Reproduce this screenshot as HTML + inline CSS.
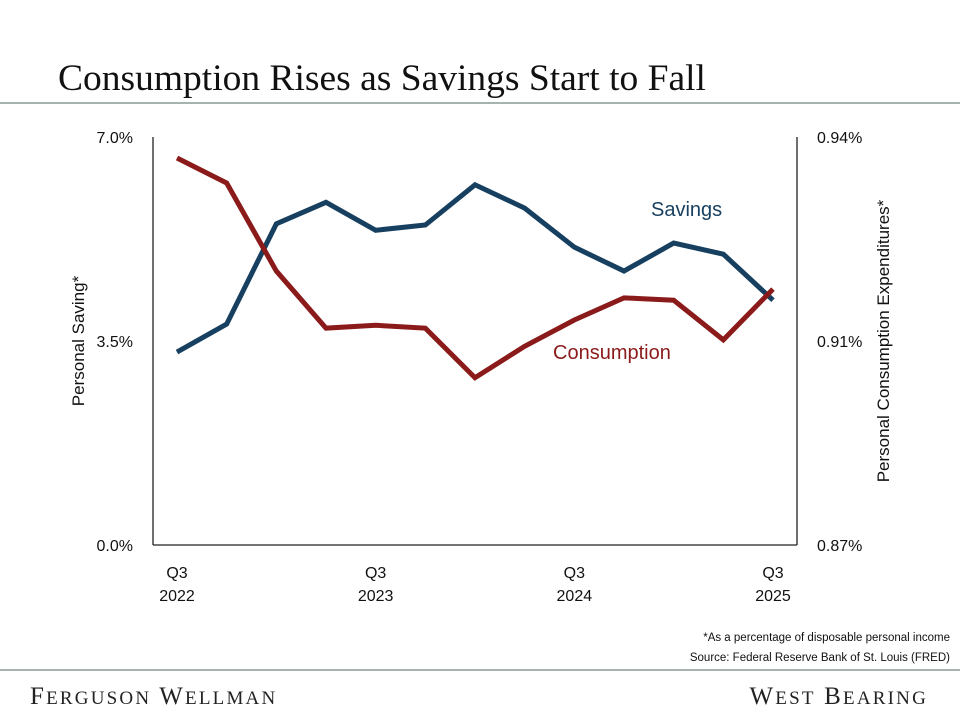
<!DOCTYPE html>
<html><head><meta charset="utf-8"><style>
body{margin:0;width:960px;height:720px;background:#fff;overflow:hidden;font-family:"Liberation Sans",sans-serif}
</style></head><body>
<svg width="960" height="720" viewBox="0 0 960 720">
<text x="58" y="90" font-family="Liberation Serif,serif" font-size="37.5" fill="#111">Consumption Rises as Savings Start to Fall</text>
<line x1="0" y1="103" x2="960" y2="103" stroke="#8a9a94" stroke-width="1.5"/>
<g id="axes"></g>
<g id="marks"></g>
<text x="950" y="641" text-anchor="end" font-size="11.5" fill="#111">*As a percentage of disposable personal income</text>
<text x="950" y="661" text-anchor="end" font-size="11.5" fill="#111">Source: Federal Reserve Bank of St. Louis (FRED)</text>
<line x1="0" y1="670" x2="960" y2="670" stroke="#8a9a94" stroke-width="1.5"/>
<text x="30" y="704" font-family="Liberation Serif,serif" font-size="25" fill="#222" letter-spacing="2.2">F<tspan font-size="19">ERGUSON</tspan> W<tspan font-size="19">ELLMAN</tspan></text>
<text x="928" y="704" text-anchor="end" font-family="Liberation Serif,serif" font-size="25" fill="#222" letter-spacing="2.2">W<tspan font-size="19">EST</tspan> B<tspan font-size="19">EARING</tspan></text>
</svg>
<script>
const quarters=["Q3 2022","Q4 2022","Q1 2023","Q2 2023","Q3 2023","Q4 2023","Q1 2024","Q2 2024","Q3 2024","Q4 2024","Q1 2025","Q2 2025","Q3 2025"];
const savings=[3.31,3.79,5.51,5.88,5.40,5.49,6.18,5.78,5.11,4.70,5.18,4.99,4.20];
const consumption=[0.9364,0.9321,0.9170,0.9072,0.9077,0.9072,0.8987,0.9041,0.9086,0.9124,0.9120,0.9052,0.9139];
const leftTicks=[0,3.5,7.0];
const leftTickLabels=["0.0%","3.5%","7.0%"];
const rightTicks=[0.87,0.905,0.94];
const rightTickLabels=["0.87%","0.91%","0.94%"];
const xTickIdx=[0,4,8,12];

const NS="http://www.w3.org/2000/svg";
const X0=177,X1=773,Y0=545,Y1=137,L=153,R=797;
const xs=i=>X0+(X1-X0)*i/(quarters.length-1);
const yL=v=>Y0-(v-0)/(7-0)*(Y0-Y1);
const yR=v=>Y0-(v-0.87)/(0.94-0.87)*(Y0-Y1);
function mk(tag,attrs,parent,text){const e=document.createElementNS(NS,tag);for(const k in attrs)e.setAttribute(k,attrs[k]);if(text!=null)e.textContent=text;parent.appendChild(e);return e;}
const ax=document.getElementById('axes'),mg=document.getElementById('marks');
let e;
e=mk('line',{x1:L,y1:Y1,x2:L,y2:Y0,stroke:'#222','stroke-width':1.3},ax);


e=mk('line',{x1:L,y1:Y0,x2:R,y2:Y0,stroke:'#222','stroke-width':1.3},ax);


e=mk('line',{x1:R,y1:Y1,x2:R,y2:Y0,stroke:'#222','stroke-width':1.3},ax);


leftTicks.forEach((v,i)=>{e=mk('text',{x:133,y:yL(v)+6,'text-anchor':'end','font-size':16,fill:'#111'},ax,leftTickLabels[i]);

});
rightTicks.forEach((v,i)=>{e=mk('text',{x:817,y:yR(v)+6,'font-size':16,fill:'#111'},ax,rightTickLabels[i]);

});
xTickIdx.forEach(i=>{const p=quarters[i].split(' ');
e=mk('text',{x:xs(i),y:578,'text-anchor':'middle','font-size':16,fill:'#111'},ax,p[0]);


e=mk('text',{x:xs(i),y:601,'text-anchor':'middle','font-size':16,fill:'#111'},ax,p[1]);

});
e=mk('text',{x:0,y:0,transform:'translate(84,341) rotate(-90)','text-anchor':'middle','font-size':17,fill:'#111'},ax,'Personal Saving*');


e=mk('text',{x:0,y:0,transform:'translate(889,341) rotate(-90)','text-anchor':'middle','font-size':17,fill:'#111'},ax,'Personal Consumption Expenditures*');


e=mk('polyline',{points:savings.map((v,i)=>xs(i)+','+yL(v)).join(' '),fill:'none',stroke:'#173f5f','stroke-width':5,'stroke-linejoin':'miter'},mg);


e=mk('polyline',{points:consumption.map((v,i)=>xs(i)+','+yR(v)).join(' '),fill:'none',stroke:'#8b1a1a','stroke-width':5,'stroke-linejoin':'miter'},mg);


e=mk('text',{x:651,y:216,'font-size':20,fill:'#173f5f'},mg,'Savings');


e=mk('text',{x:553,y:359,'font-size':20,fill:'#8b1a1a'},mg,'Consumption');


</script>
</body></html>
